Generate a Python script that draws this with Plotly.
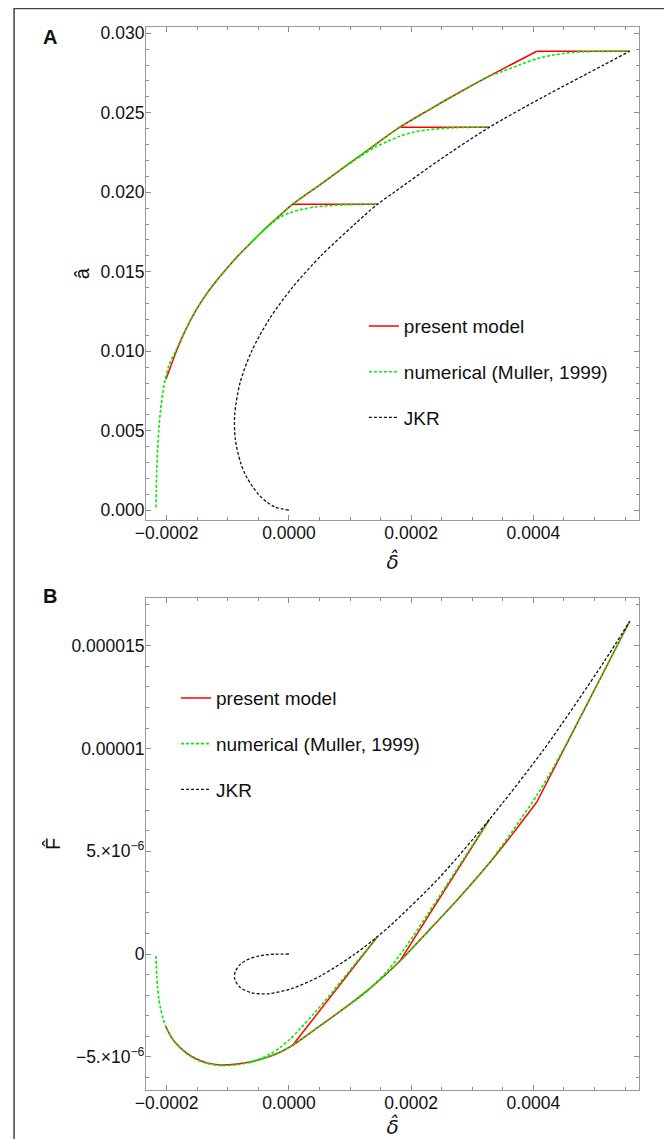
import plotly.graph_objects as go

# The page body has an 8 px margin, so the figure is drawn 8 px down/right.
OFF = 8
W, H = 672 - OFF, 1139 - OFF
# plot-area edges in page pixels (as measured on the reference)
LEFT, RIGHT, TOP, BOTTOM = 146, 639.3, 26.7, 1090
ML, MR, MT, MB = LEFT - OFF, W - (RIGHT - OFF), TOP - OFF, H - (BOTTOM - OFF)
PW, PH = W - ML - MR, H - MT - MB

def px(x):   # page pixel -> paper x
    return (x - OFF - ML) / PW

def py(y):   # page pixel -> paper y
    return 1 - (y - OFF - MT) / PH

D = 1e-4   # unit of delta values below
FU = 1e-6  # unit of force values below

# ---------------- data ----------------
# present model (red), branch from the largest preload
red1_delta = [5.576, 4.056, 3.647, 3.238, 2.764, 2.306, 1.815, 1.374, 0.948, 0.507, 0.065,
              -0.147, -0.360, -0.638, -0.883, -1.128, -1.341, -1.521, -1.684, -1.848, -1.930, -2.011]
red1_a = [0.02887, 0.02887, 0.02805, 0.02723, 0.02623, 0.02522, 0.02409, 0.02289, 0.02170, 0.02047, 0.01925,
          0.01855, 0.01781, 0.01676, 0.01579, 0.01470, 0.01364, 0.01257, 0.01139, 0.00994, 0.00909, 0.00824]
red1_F = [16.2, 7.40, 5.80, 4.28, 2.67, 1.20, -0.35, -1.55, -2.55, -3.50, -4.43,
          -4.78, -5.03, -5.26, -5.37, -5.40, -5.30, -5.10, -4.80, -4.35, -4.02, -3.55]
# present model, middle and smallest preload (constant contact radius segments)
red2_delta = [3.28, 1.815]
red2_a = [0.02409, 0.02409]
red2_F = [6.55, -0.35]
red3_delta = [1.45, 0.065]
red3_a = [0.01925, 0.01925]
red3_F = [0.85, -4.43]

# numerical (Muller, 1999), green
num1_delta = [5.576, 5.086, 4.677, 4.350, 4.056, 3.778, 3.500, 3.238, 2.764, 2.306, 1.815,
              1.374, 0.948, 0.507, 0.065, -0.147, -0.360, -0.638, -0.883, -1.128, -1.341,
              -1.521, -1.684, -1.848, -1.962, -2.020, -2.057, -2.100, -2.129, -2.149, -2.162, -2.170, -2.175]
num1_a = [0.02887, 0.02886, 0.02881, 0.02865, 0.02840, 0.02802, 0.02761, 0.02723, 0.02623, 0.02522, 0.02409,
          0.02289, 0.02170, 0.02047, 0.01925, 0.01855, 0.01781, 0.01676, 0.01579, 0.01470, 0.01364,
          0.01257, 0.01139, 0.01006, 0.00912, 0.00830, 0.00755, 0.00629, 0.00503, 0.00377, 0.00252, 0.00126, 0.000189]
num1_F = [16.2, 13.37, 11.01, 9.20, 7.72, 6.50, 5.33, 4.28, 2.67, 1.20, -0.35,
          -1.55, -2.55, -3.50, -4.43, -4.78, -5.03, -5.28, -5.40, -5.43, -5.33,
          -5.12, -4.82, -4.35, -3.85, -3.50, -3.15, -2.65, -2.15, -1.60, -1.05, -0.50, -0.02]
num2_delta = [3.28, 2.878, 2.551, 2.273, 2.028, 1.815, 1.619, 1.423, 1.194, 0.948]
num2_a = [0.02409, 0.02408, 0.02403, 0.02393, 0.02377, 0.02352, 0.02321, 0.02286, 0.02233, 0.02167]
num2_F = [6.55, 4.72, 3.22, 1.95, 0.85, -0.05, -0.80, -1.40, -2.03, -2.55]
num3_delta = [1.45, 1.079, 0.752, 0.425, 0.180, 0.016, -0.147, -0.311, -0.474, -0.638]
num3_a = [0.01925, 0.01923, 0.01918, 0.01907, 0.01890, 0.01871, 0.01843, 0.01794, 0.01739, 0.01676]
num3_F = [0.85, -0.50, -1.70, -2.85, -3.65, -4.15, -4.55, -4.88, -5.10, -5.26]

# JKR (black dashed)
jkr_delta = [0.0, -0.227, -0.358, -0.499, -0.680, -0.792, -0.878, -0.887, -0.800, -0.610, -0.324,
             0.055, 0.524, 1.080, 1.45, 1.723, 2.452, 3.28, 4.164, 5.146, 5.576]
jkr_a = [0.0, 0.0002, 0.0005, 0.001, 0.002, 0.003, 0.0045, 0.006, 0.008, 0.010, 0.012,
         0.014, 0.016, 0.018, 0.01925, 0.020, 0.022, 0.02409, 0.026, 0.028, 0.02887]
jkr_F = [0.0, -0.009, -0.036, -0.101, -0.277, -0.493, -0.851, -1.209, -1.621, -1.887, -1.929,
         -1.675, -1.056, 0.0, 0.85, 1.559, 3.690, 6.55, 9.935, 14.183, 16.2]

series_names = ["present model", "numerical (Muller, 1999)", "JKR"]

x_ticks = [-0.0002, 0.0, 0.0002, 0.0004]
x_ticktext = ["\u22120.0002", "0.0000", "0.0002", "0.0004"]
ya_ticks = [0.0, 0.005, 0.010, 0.015, 0.020, 0.025, 0.030]
ya_ticktext = ["0.000", "0.005", "0.010", "0.015", "0.020", "0.025", "0.030"]
yb_ticks = [-5e-6, 0.0, 5e-6, 1e-5, 1.5e-5]
yb_ticktext = ["\u22125.\u00d710<sup>\u22126</sup>", "0", "5.\u00d710<sup>\u22126</sup>", "0.00001", "0.000015"]

# ---------------- styles ----------------
FONT = "Liberation Sans, Arial, Helvetica, sans-serif"
DFONT = "DejaVu Sans, Liberation Sans, sans-serif"
RED = "#ff0000"
GREEN = "#00ee00"
BLACK = "#111111"

fig = go.Figure()


def sc(vals, u):
    return [v * u for v in vals]


def add(xs, ys, xa, ya, color, dash, width, name, legend, show, shape="spline"):
    fig.add_trace(go.Scatter(
        x=xs, y=ys, xaxis=xa, yaxis=ya, mode="lines",
        line=dict(color=color, dash=dash, width=width, shape=shape, smoothing=0.8),
        name=name, legend=legend, legendgroup=legend + name, showlegend=show,
        hoverinfo="skip"))


for xa, ya, leg, r1, r2, r3, n1, n2, n3, jk, u in [
    ("x", "y", "legend", red1_a, red2_a, red3_a, num1_a, num2_a, num3_a, jkr_a, 1.0),
    ("x2", "y2", "legend2", red1_F, red2_F, red3_F, num1_F, num2_F, num3_F, jkr_F, FU),
]:
    # present model
    add(sc(red1_delta[:2], D), sc(r1[:2], u), xa, ya, RED, "solid", 1.5, series_names[0], leg, True, "linear")
    add(sc(red1_delta[1:], D), sc(r1[1:], u), xa, ya, RED, "solid", 1.5, series_names[0], leg, False)
    add(sc(red2_delta, D), sc(r2, u), xa, ya, RED, "solid", 1.5, series_names[0], leg, False, "linear")
    add(sc(red3_delta, D), sc(r3, u), xa, ya, RED, "solid", 1.5, series_names[0], leg, False, "linear")
    # numerical
    add(sc(num1_delta, D), sc(n1, u), xa, ya, GREEN, "3px,2px", 1.6, series_names[1], leg, True)
    add(sc(num2_delta, D), sc(n2, u), xa, ya, GREEN, "3px,2px", 1.6, series_names[1], leg, False)
    add(sc(num3_delta, D), sc(n3, u), xa, ya, GREEN, "3px,2px", 1.6, series_names[1], leg, False)
    # JKR
    add(sc(jkr_delta, D), sc(jk, u), xa, ya, BLACK, "3px,2px", 1.3, series_names[2], leg, True)

axis_common = dict(
    showline=True, linecolor="#9a9a9a", linewidth=1.2, mirror="ticks",
    ticks="inside", ticklen=5, tickwidth=1, tickcolor="#8a8a8a",
    showgrid=False, zeroline=False, automargin=False,
    tickfont=dict(family=FONT, size=17.5, color="#111"),
)
x_common = dict(axis_common, ticklabelstandoff=-3)
y_common = dict(axis_common, ticklabelstandoff=-3)

xrange = [-2.338e-4, 5.728e-4]
minor_x = dict(tick0=0, dtick=5e-5, ticklen=3, tickcolor="#8a8a8a", ticks="inside")

fig.update_layout(
    width=W, height=H,
    margin=dict(l=ML, r=MR, t=MT, b=MB, autoexpand=False),
    paper_bgcolor="white", plot_bgcolor="white",
    font=dict(family=FONT, size=17, color="#111"),
    xaxis=dict(domain=[0, 1], anchor="y", range=xrange, tickmode="array",
               tickvals=x_ticks, ticktext=x_ticktext, minor=minor_x,
               title=dict(text="<i>\u03b4\u0302</i>", font=dict(family=DFONT, size=20, color="#111"), standoff=12),
               **x_common),
    yaxis=dict(domain=[py(520), 1], anchor="x", range=[-0.000629, 0.030396], tickmode="array",
               tickvals=ya_ticks, ticktext=ya_ticktext,
               minor=dict(tick0=0, dtick=0.001, ticklen=3, tickcolor="#8a8a8a", ticks="inside"),
               title=dict(text="\u00e2", font=dict(family=FONT, size=20, color="#111"), standoff=5),
               **y_common),
    xaxis2=dict(domain=[0, 1], anchor="y2", range=xrange, tickmode="array",
                tickvals=x_ticks, ticktext=x_ticktext, minor=minor_x,
                title=dict(text="<i>\u03b4\u0302</i>", font=dict(family=DFONT, size=20, color="#111"), standoff=12),
                **x_common),
    yaxis2=dict(domain=[0, py(597.7)], anchor="x2", range=[-6.62e-6, 17.34e-6], tickmode="array",
                tickvals=yb_ticks, ticktext=yb_ticktext,
                minor=dict(tick0=0, dtick=1e-6, ticklen=3, tickcolor="#8a8a8a", ticks="inside"),
                title=dict(text="F\u0302", font=dict(family=FONT, size=20, color="#111"), standoff=5),
                **y_common),
    legend=dict(x=px(364), y=py(307), xanchor="left", yanchor="top",
                bgcolor="rgba(0,0,0,0)", font=dict(family=FONT, size=19, color="#111"),
                tracegroupgap=18, itemwidth=30),
    legend2=dict(x=px(176), y=py(679), xanchor="left", yanchor="top",
                 bgcolor="rgba(0,0,0,0)", font=dict(family=FONT, size=19, color="#111"),
                 tracegroupgap=18, itemwidth=30),
    showlegend=True,
    shapes=[dict(type="rect", xref="paper", yref="paper",
                 x0=px(14), x1=px(667), y0=py(8.3), y1=py(1145),
                 line=dict(color="#444", width=1.5), fillcolor="rgba(0,0,0,0)", layer="below")],
    annotations=[
        dict(text="<b>A</b>", x=px(50), y=py(37), xref="paper", yref="paper", showarrow=False,
             xanchor="center", yanchor="middle", font=dict(family=FONT, size=20, color="#111")),
        dict(text="<b>B</b>", x=px(50), y=py(596), xref="paper", yref="paper", showarrow=False,
             xanchor="center", yanchor="middle", font=dict(family=FONT, size=20, color="#111")),
    ],
)

fig.write_html("out.html")
